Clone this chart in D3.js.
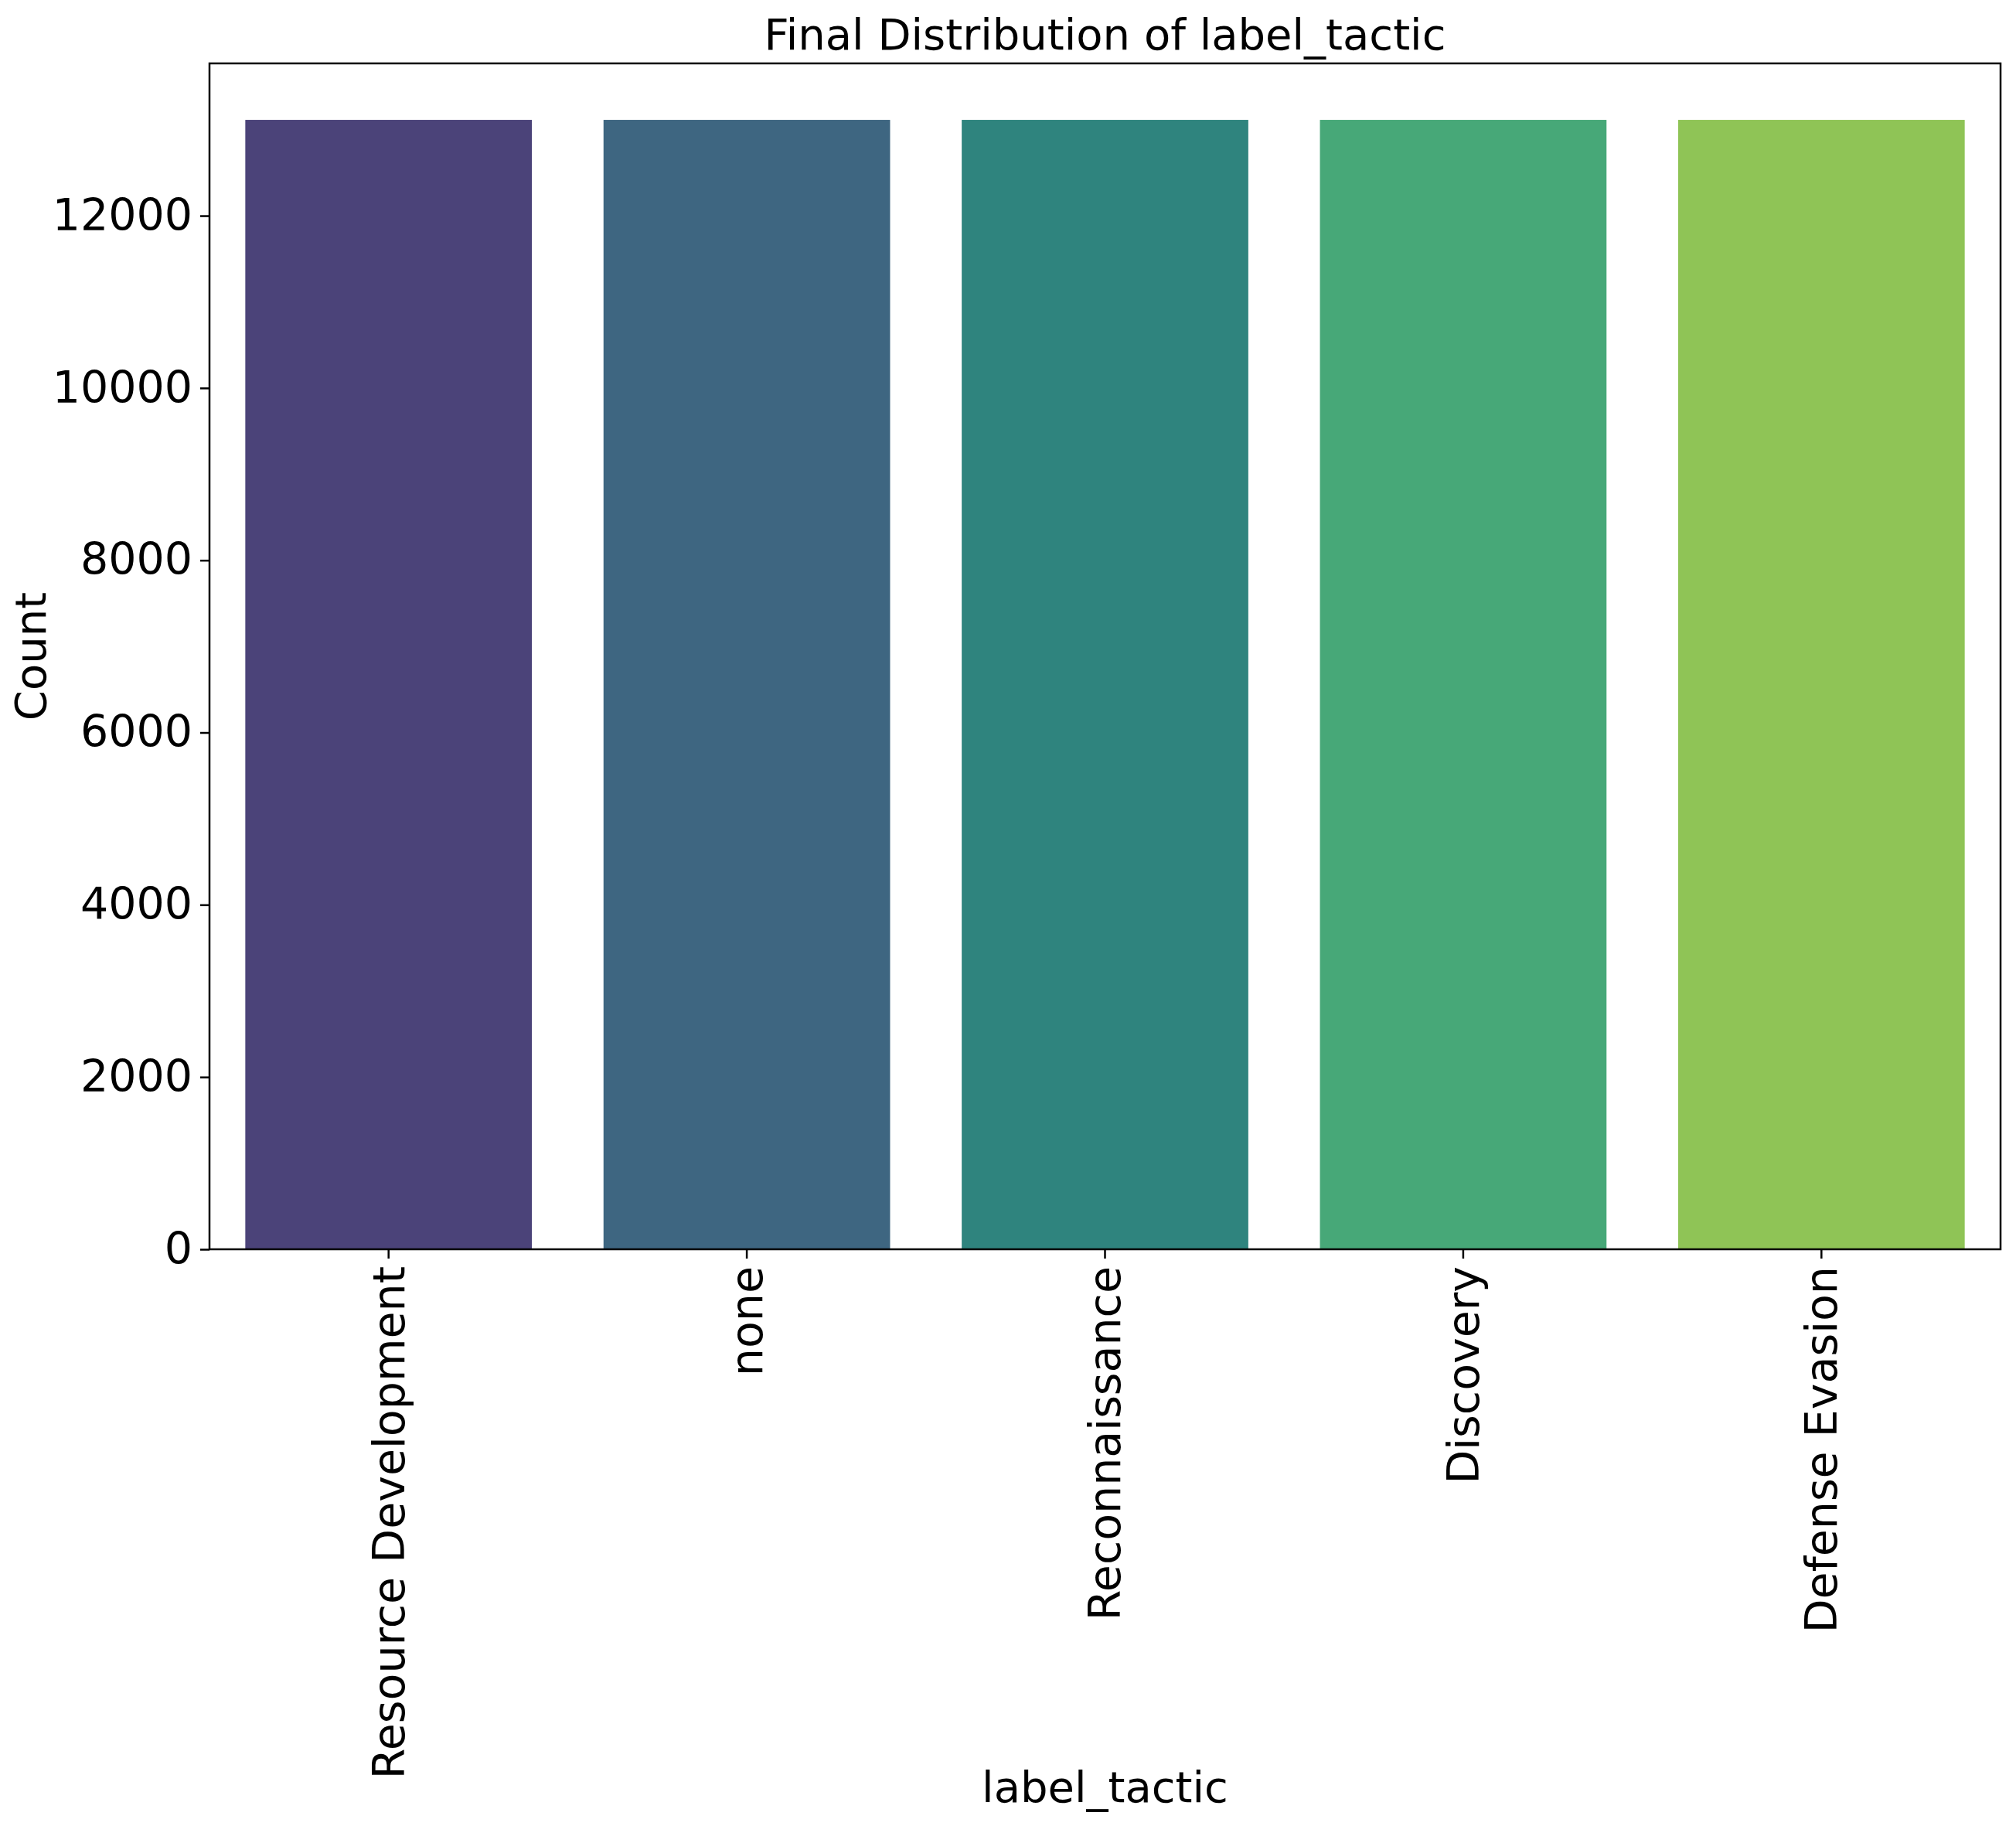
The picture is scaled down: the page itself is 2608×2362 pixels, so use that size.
<!DOCTYPE html>
<html><head><meta charset="utf-8">
<script src="https://d3js.org/d3.v7.min.js"></script>
<style>body{margin:0;background:#fff}text{font-family:"DejaVu Sans",sans-serif}</style>
</head><body><div id="chart"></div>
<script>
const categories = ["Resource Development", "none", "Reconnaissance", "Discovery", "Defense Evasion"];
const counts = [13113, 13113, 13113, 13113, 13113];
const colors = ["#4b4379", "#3e6681", "#2f847e", "#47a878", "#8fc456"];
const yTicks = [0, 2000, 4000, 6000, 8000, 10000, 12000];

const W = 2608, H = 2362;
const margin = { top: 82, right: 20, bottom: 746, left: 271 },
      width = W - margin.left - margin.right,
      height = H - margin.top - margin.bottom;

const svg = d3.select("#chart").append("svg")
    .attr("width", W).attr("height", H)
  .append("g")
    .attr("transform", `translate(${margin.left},${margin.top})`);

const x = d3.scaleBand().domain(categories).range([0, width]).paddingInner(0.2).paddingOuter(0.1);
const y = d3.scaleLinear().domain([0, 13113 * 1.05]).range([height, 0]);

svg.selectAll(".bar")
   .data(categories)
   .enter().append("rect")
   .attr("x", d => x(d))
   .attr("y", (d, i) => y(counts[i]))
   .attr("width", x.bandwidth())
   .attr("height", (d, i) => height - y(counts[i]))
   .attr("fill", (d, i) => colors[i]);

const yAxis = svg.append("g")
   .call(d3.axisLeft(y).tickValues(yTicks).tickSize(12).tickPadding(10).tickFormat(d3.format("d")));
yAxis.selectAll("text").style("font-size", "57px").style("fill", "#000");

const xAxis = svg.append("g")
   .attr("transform", `translate(0,${height})`)
   .call(d3.axisBottom(x).tickSize(12).tickPadding(10));
xAxis.selectAll("text")
   .attr("transform", "rotate(-90)")
   .attr("x", -22).attr("y", 0).attr("dy", "0.35em")
   .style("text-anchor", "end")
   .style("font-size", "57px").style("fill", "#000");

svg.selectAll(".domain").remove();
svg.selectAll(".tick line").attr("stroke", "#000").attr("stroke-width", 2.5);

// frame
svg.append("rect")
   .attr("width", width).attr("height", height)
   .attr("fill", "none").attr("stroke", "#000").attr("stroke-width", 2.5);

svg.append("text")
   .attr("x", width / 2).attr("y", -18)
   .attr("text-anchor", "middle")
   .style("font-size", "56px")
   .text("Final Distribution of label_tactic");

svg.append("text")
   .attr("x", width / 2).attr("y", height + 715)
   .attr("text-anchor", "middle")
   .style("font-size", "56px")
   .text("label_tactic");

svg.append("text")
   .attr("transform", "rotate(-90)")
   .attr("x", -height / 2).attr("y", -212)
   .attr("text-anchor", "middle")
   .style("font-size", "56px")
   .text("Count");
</script></body></html>
